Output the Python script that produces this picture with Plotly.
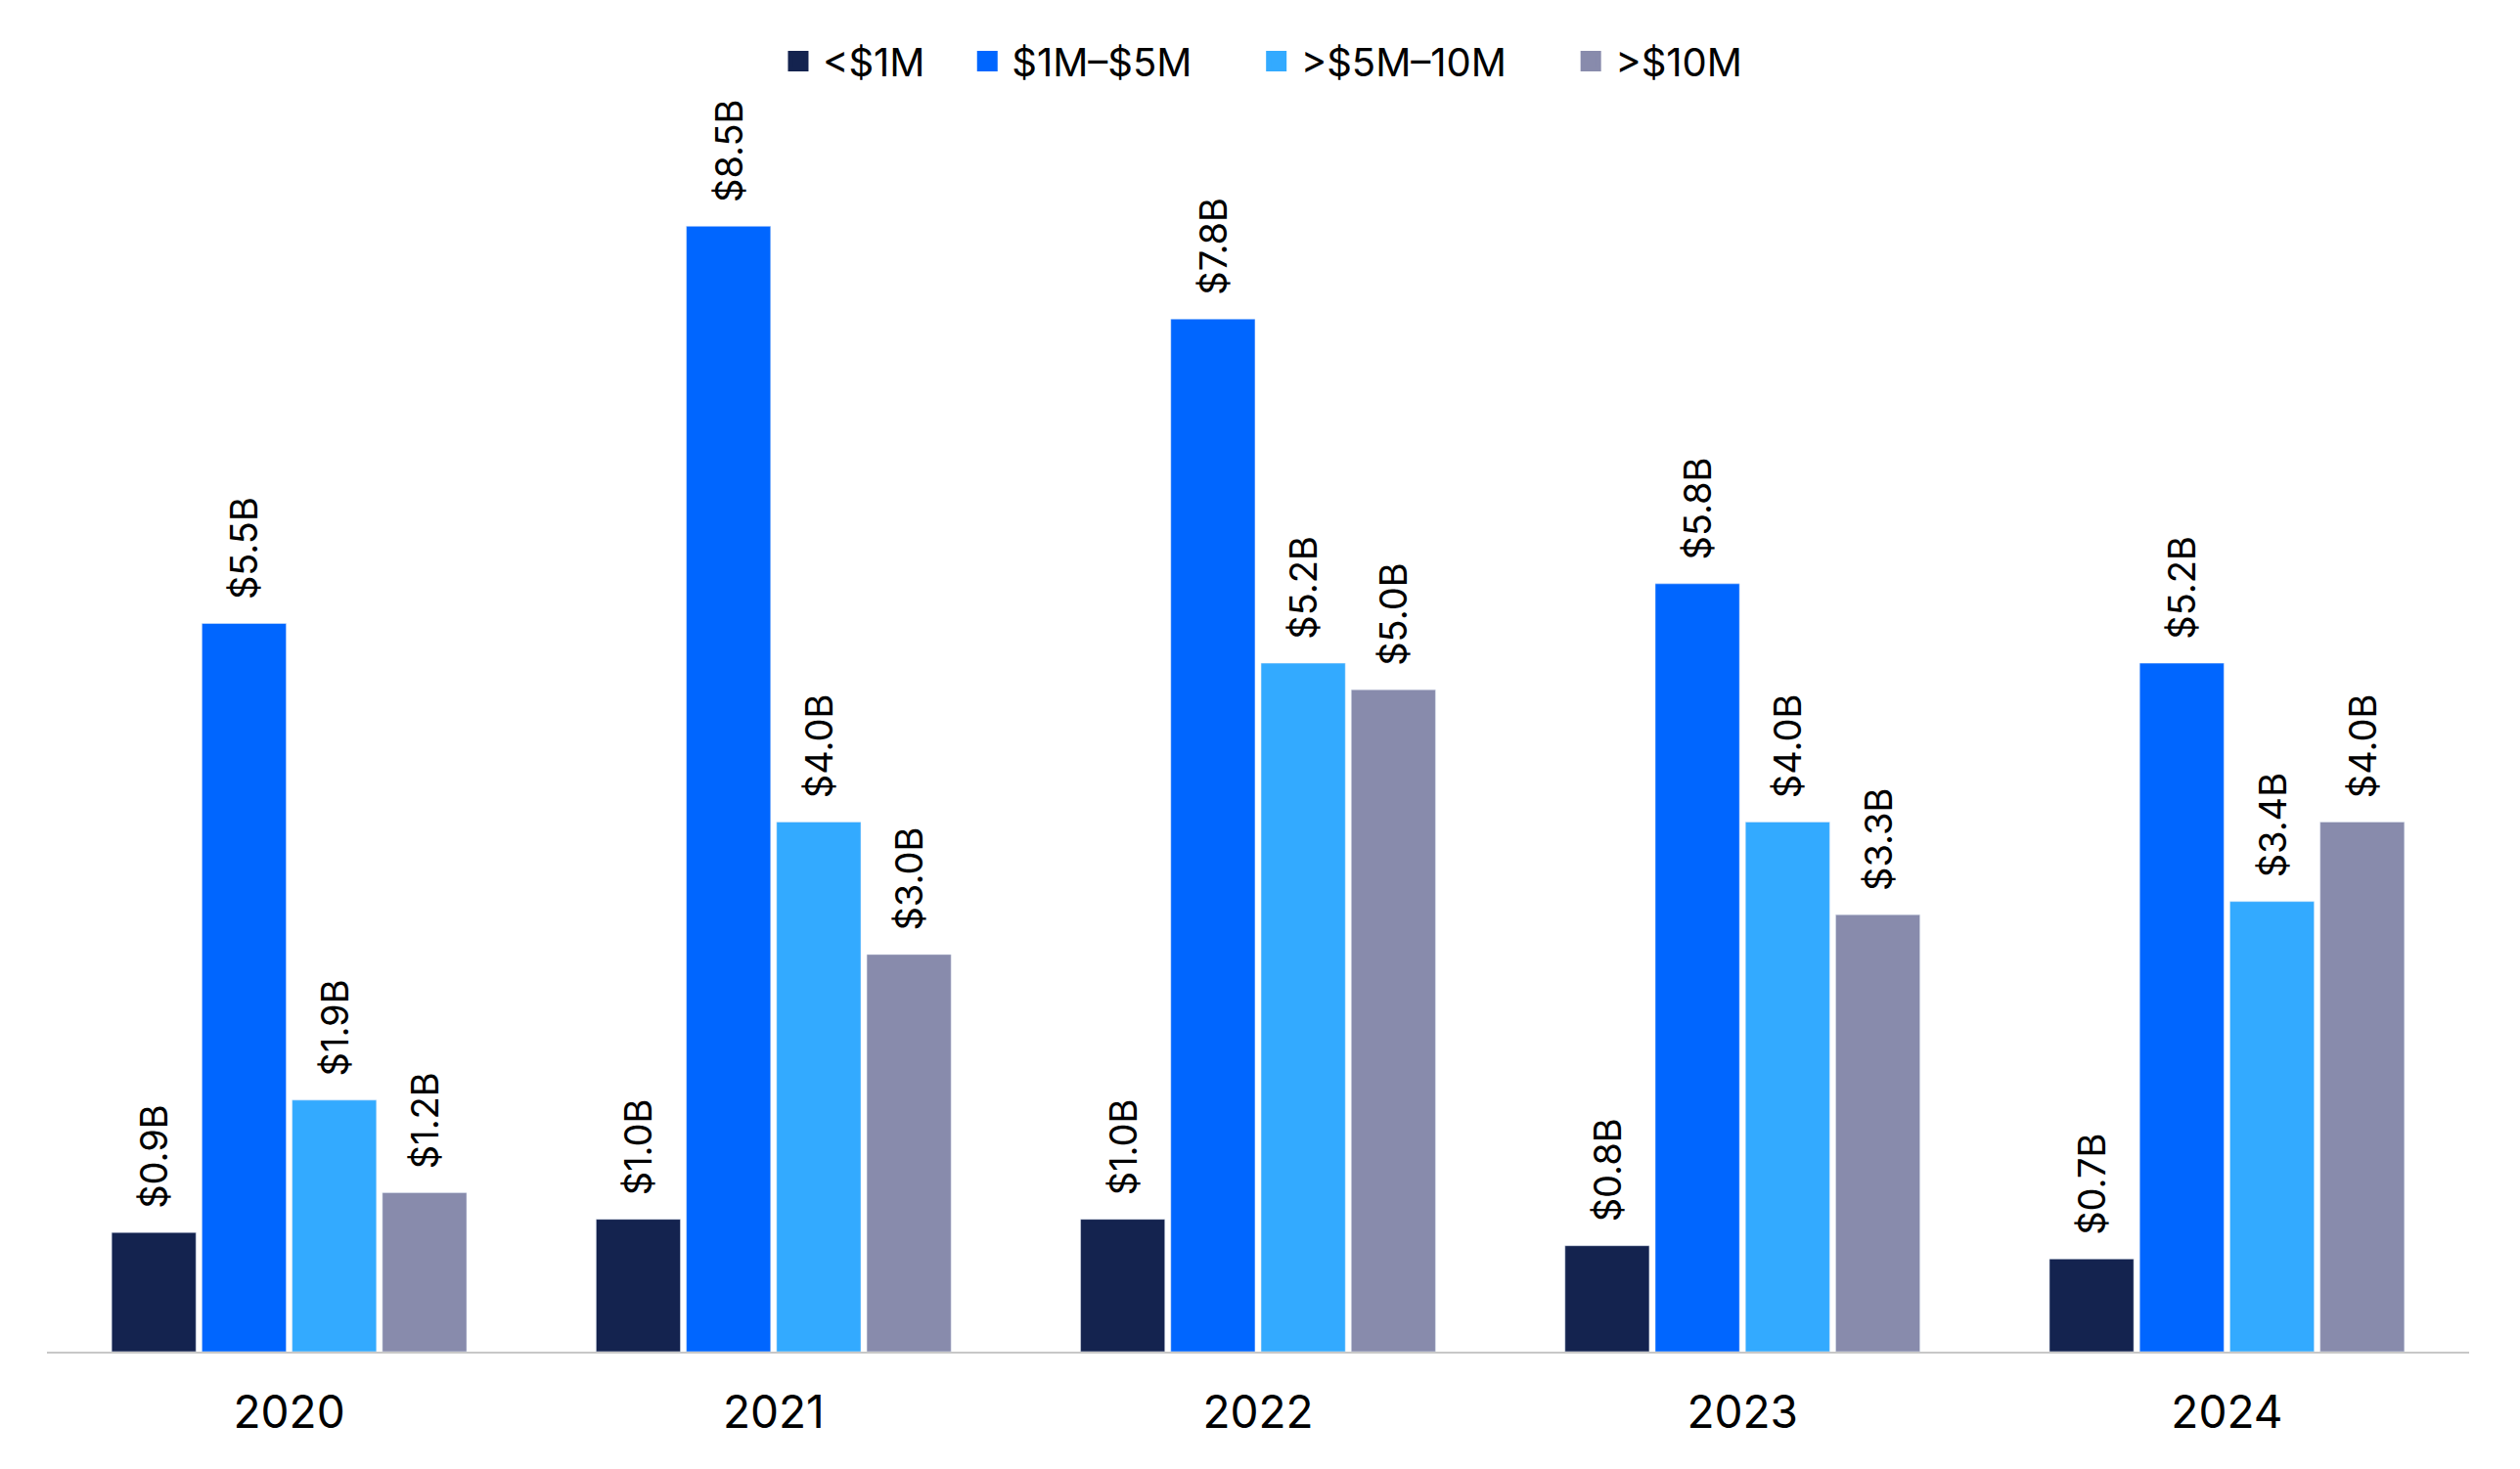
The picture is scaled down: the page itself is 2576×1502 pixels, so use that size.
import plotly.graph_objects as go

# chart data
years = ["2020", "2021", "2022", "2023", "2024"]
series_names = ["<$1M", "$1M–$5M", ">$5M–10M", ">$10M"]
under_1m = [0.9, 1.0, 1.0, 0.8, 0.7]
m1_to_5 = [5.5, 8.5, 7.8, 5.8, 5.2]
m5_to_10 = [1.9, 4.0, 5.2, 4.0, 3.4]
over_10m = [1.2, 3.0, 5.0, 3.3, 4.0]

colors = ["#14234F", "#0066FF", "#33AAFF", "#888BAC"]
font_family = "Inter, Liberation Sans, Arial, sans-serif"

fig = go.Figure()

# bars with rotated value labels on top
for name, vals, col in zip(series_names, [under_1m, m1_to_5, m5_to_10, over_10m], colors):
    fig.add_trace(go.Bar(
        x=years,
        y=vals,
        name=name,
        marker_color=col,
        text=["\u00a0\u00a0$%.1fB" % v for v in vals],
        textposition="outside",
        textangle=-90,
        constraintext="none",
        textfont=dict(family=font_family, size=38, color="#000000"),
        cliponaxis=False,
        showlegend=False,
    ))

# legend entries (bigger square swatches than the default bar symbol)
# trailing spaces widen the gap between legend items
pads = [3, 5, 5, 0]
for name, col, p in zip(series_names, colors, pads):
    fig.add_trace(go.Scatter(
        x=[None], y=[None],
        mode="markers",
        name=name + "\u00a0" * p,
        marker=dict(symbol="square", size=16, color=col, line=dict(color=col, width=5)),
        showlegend=True,
    ))

fig.update_layout(
    width=2576,
    height=1502,
    margin=dict(l=40, r=60, t=88, b=128),
    paper_bgcolor="white",
    plot_bgcolor="white",
    barmode="group",
    bargap=0.255,
    bargroupgap=0.066,
    font=dict(family=font_family, color="#000000"),
    legend=dict(
        orientation="h",
        x=0.501, xanchor="center",
        y=1.026, yanchor="middle",
        font=dict(size=40),
        itemwidth=40,
        traceorder="normal",
    ),
)

fig.update_xaxes(
    type="category",
    showline=True,
    linecolor="#C8C8C8",
    linewidth=2,
    showgrid=False,
    ticks="",
    ticklabelstandoff=21,
    tickfont=dict(size=46, family=font_family, color="#000000"),
)
fig.update_yaxes(
    range=[0, 9.5],
    visible=False,
    showgrid=False,
    zeroline=False,
)

fig.write_html("out.html")
